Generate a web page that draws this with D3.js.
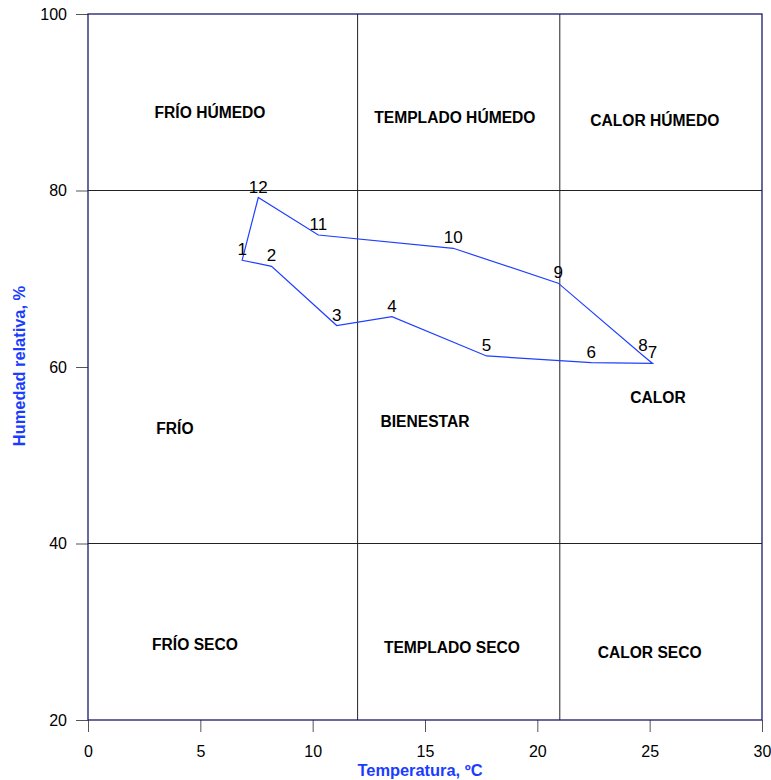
<!DOCTYPE html>
<html><head><meta charset="utf-8">
<script src="https://cdn.jsdelivr.net/npm/d3@7"></script>
<style>body{margin:0;background:#fff;} text{font-family:Arial,"Liberation Sans",sans-serif;}</style>
</head><body>
<svg id="c" width="771" height="780"></svg>
<script>
const months = ["1","2","3","4","5","6","7","8","9","10","11","12"];
const temperature = [6.86, 8.17, 11.07, 13.53, 17.74, 22.4, 25.13, 24.7, 20.93, 16.26, 10.25, 7.58];
const humidity = [72.1, 71.4, 64.7, 65.7, 61.25, 60.5, 60.4, 61.3, 69.5, 73.45, 74.96, 79.2];
const xTicks = [0, 5, 10, 15, 20, 25, 30];
const yTicks = [20, 40, 60, 80, 100];
const tempLimits = [12, 21];
const humLimits = [40, 80];
const zoneNames = ["FRÍO HÚMEDO","TEMPLADO HÚMEDO","CALOR HÚMEDO","FRÍO","BIENESTAR","CALOR","FRÍO SECO","TEMPLADO SECO","CALOR SECO"];
const zoneX = [5.43, 16.33, 25.23, 3.87, 15.0, 25.37, 4.76, 16.2, 25.0];
const zoneY = [88.8, 88.3, 87.9, 53.0, 53.8, 56.6, 28.6, 28.2, 27.7];

const svg = d3.select("#c");
const L = 88, R = 762, T = 14, B = 720;
const x = d3.scaleLinear().domain([0, 30]).range([L, R]);
const y = d3.scaleLinear().domain([20, 100]).range([B, T]);

// axes
const xAxis = svg.append("g").attr("transform", `translate(0,${B})`)
  .call(d3.axisBottom(x).tickValues(xTicks).tickSize(12).tickPadding(14));
const yAxis = svg.append("g").attr("transform", `translate(${L},0)`)
  .call(d3.axisLeft(y).tickValues(yTicks).tickSize(12).tickPadding(9));
[xAxis, yAxis].forEach(g => {
  g.select(".domain").remove();
  g.selectAll(".tick line").attr("stroke", "#555");
  g.selectAll(".tick text").attr("font-size", 16).attr("fill", "#000")
    .attr("font-family", "Arial, 'Liberation Sans', sans-serif");
});

// division lines
svg.append("g").selectAll("line").data(tempLimits).join("line")
  .attr("x1", d => x(d)).attr("x2", d => x(d)).attr("y1", T).attr("y2", B)
  .attr("stroke", "#222").attr("stroke-width", 1);
svg.append("g").selectAll("line").data(humLimits).join("line")
  .attr("x1", L).attr("x2", R).attr("y1", d => y(d)).attr("y2", d => y(d))
  .attr("stroke", "#222").attr("stroke-width", 1);

// frame
svg.append("rect").attr("x", L).attr("y", T).attr("width", R - L).attr("height", B - T)
  .attr("fill", "none").attr("stroke", "#1a1a6e").attr("stroke-width", 1.3);

// zone labels
svg.append("g").selectAll("text").data(zoneNames).join("text")
  .attr("x", (d, i) => x(zoneX[i])).attr("y", (d, i) => y(zoneY[i]))
  .attr("text-anchor", "middle").attr("dominant-baseline", "central")
  .attr("font-size", 15.6).attr("font-weight", "bold").attr("fill", "#000")
  .text(d => d);

// path
const pts = months.map((m, i) => [temperature[i], humidity[i]]);
svg.append("path").datum(pts)
  .attr("d", d3.line().x(d => x(d[0])).y(d => y(d[1])).curve(d3.curveLinearClosed))
  .attr("fill", "none").attr("stroke", "#1f3fff").attr("stroke-width", 1.2);

// point labels
svg.append("g").selectAll("text").data(months).join("text")
  .attr("x", (d, i) => x(temperature[i]))
  .attr("y", (d, i) => y(humidity[i]) - 5)
  .attr("text-anchor", "middle").attr("font-size", 17).attr("fill", "#000")
  .text(d => d);

// axis titles
svg.append("text").attr("x", 420).attr("y", 776).attr("text-anchor", "middle")
  .attr("font-size", 16.4).attr("font-weight", "bold").attr("fill", "#1a3cff")
  .text("Temperatura, ºC");
svg.append("text").attr("transform", "translate(25,366) rotate(-90)").attr("text-anchor", "middle")
  .attr("font-size", 16.4).attr("font-weight", "bold").attr("fill", "#1a3cff")
  .text("Humedad relativa, %");
</script>
</body></html>
